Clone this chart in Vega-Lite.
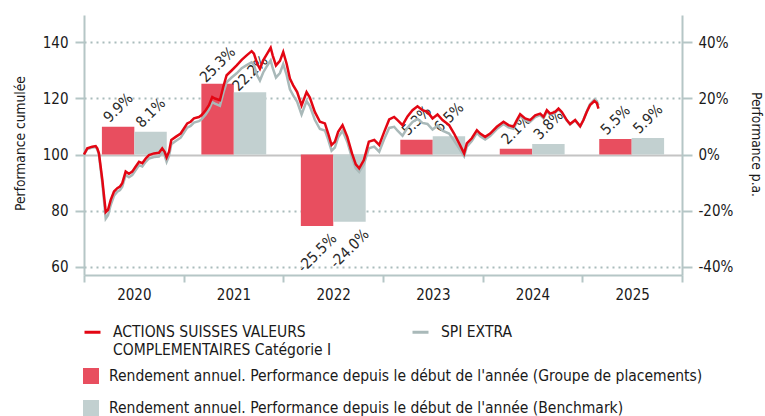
{
  "$schema": "https://vega.github.io/schema/vega-lite/v6.json",
  "width": 598,
  "height": 260,
  "autosize": "none",
  "padding": {"left": 84, "top": 15, "right": 83, "bottom": 141},
  "background": "white",
  "config": {
    "view": {"stroke": null},
    "font": "DejaVu Sans Condensed",
    "axis": {
      "domainColor": "#b5c6c6",
      "domainWidth": 2,
      "tickColor": "#b5c6c6",
      "tickWidth": 2,
      "labelFont": "DejaVu Sans Condensed",
      "labelFontSize": 15,
      "labelColor": "#1a1a1a",
      "titleFont": "DejaVu Sans Condensed",
      "titleFontSize": 13.7,
      "titleFontWeight": "normal",
      "titleColor": "#1a1a1a"
    },
    "legend": {
      "labelFont": "DejaVu Sans Condensed",
      "labelFontSize": 15.5,
      "labelColor": "#1a1a1a",
      "padding": 0
    }
  },
  "datasets": {
    "annual": [
      {"year": "2020", "series": "Groupe de placements", "value": 9.9},
      {"year": "2020", "series": "Benchmark", "value": 8.1},
      {"year": "2021", "series": "Groupe de placements", "value": 25.3},
      {"year": "2021", "series": "Benchmark", "value": 22.2},
      {"year": "2022", "series": "Groupe de placements", "value": -25.5},
      {"year": "2022", "series": "Benchmark", "value": -24.0},
      {"year": "2023", "series": "Groupe de placements", "value": 5.3},
      {"year": "2023", "series": "Benchmark", "value": 6.5},
      {"year": "2024", "series": "Groupe de placements", "value": 2.1},
      {"year": "2024", "series": "Benchmark", "value": 3.8},
      {"year": "2025", "series": "Groupe de placements", "value": 5.5},
      {"year": "2025", "series": "Benchmark", "value": 5.9}
    ],
    "perf": [
      {"t": 2020.000, "fund": 100.0, "bench": 100.0},
      {"t": 2020.033, "fund": 102.2, "bench": 102.0},
      {"t": 2020.083, "fund": 102.8, "bench": 102.5},
      {"t": 2020.117, "fund": 103.0, "bench": 102.7},
      {"t": 2020.133, "fund": 102.2, "bench": 101.9},
      {"t": 2020.150, "fund": 100.4, "bench": 99.9},
      {"t": 2020.184, "fund": 90.9, "bench": 89.7},
      {"t": 2020.218, "fund": 79.5, "bench": 77.1},
      {"t": 2020.241, "fund": 80.3, "bench": 78.3},
      {"t": 2020.268, "fund": 83.8, "bench": 82.0},
      {"t": 2020.301, "fund": 86.8, "bench": 85.3},
      {"t": 2020.334, "fund": 88.0, "bench": 86.7},
      {"t": 2020.361, "fund": 88.6, "bench": 87.3},
      {"t": 2020.384, "fund": 89.8, "bench": 88.5},
      {"t": 2020.418, "fund": 93.9, "bench": 92.7},
      {"t": 2020.451, "fund": 93.1, "bench": 91.9},
      {"t": 2020.484, "fund": 93.9, "bench": 92.7},
      {"t": 2020.519, "fund": 95.7, "bench": 94.5},
      {"t": 2020.552, "fund": 97.4, "bench": 96.2},
      {"t": 2020.585, "fund": 96.9, "bench": 95.7},
      {"t": 2020.619, "fund": 98.6, "bench": 97.4},
      {"t": 2020.652, "fund": 99.8, "bench": 98.6},
      {"t": 2020.702, "fund": 100.4, "bench": 99.1},
      {"t": 2020.752, "fund": 100.6, "bench": 99.3},
      {"t": 2020.785, "fund": 102.2, "bench": 100.9},
      {"t": 2020.809, "fund": 101.0, "bench": 99.7},
      {"t": 2020.829, "fund": 99.0, "bench": 97.4},
      {"t": 2020.853, "fund": 101.0, "bench": 99.5},
      {"t": 2020.876, "fund": 105.2, "bench": 103.7},
      {"t": 2020.920, "fund": 106.3, "bench": 104.8},
      {"t": 2020.970, "fund": 107.5, "bench": 106.0},
      {"t": 2021.003, "fund": 109.3, "bench": 107.8},
      {"t": 2021.036, "fund": 111.1, "bench": 109.6},
      {"t": 2021.070, "fund": 111.7, "bench": 110.2},
      {"t": 2021.103, "fund": 112.9, "bench": 111.4},
      {"t": 2021.153, "fund": 113.4, "bench": 111.9},
      {"t": 2021.177, "fund": 114.0, "bench": 112.5},
      {"t": 2021.221, "fund": 115.8, "bench": 114.3},
      {"t": 2021.254, "fund": 117.6, "bench": 116.1},
      {"t": 2021.287, "fund": 120.5, "bench": 118.7},
      {"t": 2021.314, "fund": 120.0, "bench": 118.2},
      {"t": 2021.364, "fund": 119.4, "bench": 117.4},
      {"t": 2021.397, "fund": 124.1, "bench": 121.9},
      {"t": 2021.431, "fund": 128.3, "bench": 125.8},
      {"t": 2021.481, "fund": 130.0, "bench": 127.5},
      {"t": 2021.532, "fund": 131.8, "bench": 129.0},
      {"t": 2021.582, "fund": 133.8, "bench": 130.8},
      {"t": 2021.632, "fund": 135.4, "bench": 131.9},
      {"t": 2021.682, "fund": 136.9, "bench": 132.9},
      {"t": 2021.705, "fund": 136.0, "bench": 132.0},
      {"t": 2021.738, "fund": 132.4, "bench": 128.2},
      {"t": 2021.765, "fund": 130.6, "bench": 126.4},
      {"t": 2021.798, "fund": 133.6, "bench": 129.3},
      {"t": 2021.838, "fund": 136.0, "bench": 131.7},
      {"t": 2021.873, "fund": 138.1, "bench": 133.6},
      {"t": 2021.893, "fund": 135.4, "bench": 130.9},
      {"t": 2021.926, "fund": 131.8, "bench": 127.5},
      {"t": 2021.966, "fund": 133.4, "bench": 129.1},
      {"t": 2021.999, "fund": 136.6, "bench": 132.3},
      {"t": 2022.033, "fund": 132.4, "bench": 128.4},
      {"t": 2022.066, "fund": 127.1, "bench": 123.3},
      {"t": 2022.099, "fund": 124.7, "bench": 121.1},
      {"t": 2022.139, "fund": 122.3, "bench": 118.8},
      {"t": 2022.183, "fund": 117.5, "bench": 114.3},
      {"t": 2022.233, "fund": 122.3, "bench": 119.1},
      {"t": 2022.266, "fund": 120.3, "bench": 117.3},
      {"t": 2022.316, "fund": 115.2, "bench": 112.4},
      {"t": 2022.367, "fund": 111.7, "bench": 109.1},
      {"t": 2022.417, "fund": 111.1, "bench": 108.6},
      {"t": 2022.450, "fund": 107.5, "bench": 105.3},
      {"t": 2022.484, "fund": 103.4, "bench": 101.4},
      {"t": 2022.517, "fund": 104.5, "bench": 102.5},
      {"t": 2022.550, "fund": 108.1, "bench": 106.1},
      {"t": 2022.594, "fund": 110.5, "bench": 108.5},
      {"t": 2022.642, "fund": 106.3, "bench": 104.5},
      {"t": 2022.689, "fund": 100.4, "bench": 98.8},
      {"t": 2022.727, "fund": 96.5, "bench": 95.1},
      {"t": 2022.761, "fund": 95.1, "bench": 93.8},
      {"t": 2022.808, "fund": 98.0, "bench": 96.5},
      {"t": 2022.858, "fund": 104.6, "bench": 102.2},
      {"t": 2022.912, "fund": 105.2, "bench": 102.8},
      {"t": 2022.962, "fund": 103.4, "bench": 101.0},
      {"t": 2023.012, "fund": 108.1, "bench": 105.5},
      {"t": 2023.062, "fund": 112.5, "bench": 109.5},
      {"t": 2023.112, "fund": 113.4, "bench": 109.9},
      {"t": 2023.146, "fund": 112.3, "bench": 108.5},
      {"t": 2023.196, "fund": 110.5, "bench": 106.7},
      {"t": 2023.246, "fund": 113.6, "bench": 109.6},
      {"t": 2023.296, "fund": 115.8, "bench": 111.6},
      {"t": 2023.346, "fund": 117.2, "bench": 112.7},
      {"t": 2023.396, "fund": 115.8, "bench": 111.3},
      {"t": 2023.446, "fund": 115.2, "bench": 110.9},
      {"t": 2023.497, "fund": 112.9, "bench": 108.9},
      {"t": 2023.547, "fund": 114.3, "bench": 110.3},
      {"t": 2023.597, "fund": 112.3, "bench": 108.5},
      {"t": 2023.663, "fund": 110.5, "bench": 107.5},
      {"t": 2023.713, "fund": 107.5, "bench": 105.0},
      {"t": 2023.764, "fund": 104.0, "bench": 102.2},
      {"t": 2023.814, "fund": 100.4, "bench": 99.4},
      {"t": 2023.841, "fund": 104.0, "bench": 102.8},
      {"t": 2023.891, "fund": 105.8, "bench": 104.8},
      {"t": 2023.942, "fund": 108.7, "bench": 107.7},
      {"t": 2023.975, "fund": 107.5, "bench": 106.5},
      {"t": 2024.025, "fund": 106.3, "bench": 105.4},
      {"t": 2024.075, "fund": 107.5, "bench": 106.6},
      {"t": 2024.142, "fund": 109.9, "bench": 109.1},
      {"t": 2024.209, "fund": 111.7, "bench": 110.9},
      {"t": 2024.259, "fund": 110.5, "bench": 109.7},
      {"t": 2024.309, "fund": 109.9, "bench": 109.2},
      {"t": 2024.343, "fund": 112.3, "bench": 111.6},
      {"t": 2024.376, "fund": 114.4, "bench": 113.7},
      {"t": 2024.426, "fund": 112.9, "bench": 112.3},
      {"t": 2024.476, "fund": 112.3, "bench": 111.7},
      {"t": 2024.527, "fund": 114.0, "bench": 113.4},
      {"t": 2024.577, "fund": 114.6, "bench": 114.1},
      {"t": 2024.611, "fund": 113.4, "bench": 112.9},
      {"t": 2024.644, "fund": 115.8, "bench": 115.4},
      {"t": 2024.677, "fund": 114.6, "bench": 114.2},
      {"t": 2024.727, "fund": 115.2, "bench": 114.9},
      {"t": 2024.761, "fund": 116.4, "bench": 116.1},
      {"t": 2024.794, "fund": 115.2, "bench": 114.9},
      {"t": 2024.844, "fund": 112.3, "bench": 112.1},
      {"t": 2024.877, "fund": 110.9, "bench": 110.7},
      {"t": 2024.928, "fund": 112.3, "bench": 112.2},
      {"t": 2024.978, "fund": 110.1, "bench": 110.0},
      {"t": 2025.011, "fund": 112.3, "bench": 112.3},
      {"t": 2025.044, "fund": 115.2, "bench": 115.4},
      {"t": 2025.077, "fund": 117.6, "bench": 118.0},
      {"t": 2025.121, "fund": 119.1, "bench": 119.7},
      {"t": 2025.145, "fund": 118.4, "bench": 119.1},
      {"t": 2025.162, "fund": 116.4, "bench": 117.5}
    ]
  },
  "layer": [
    {
      "data": {"name": "annual"},
      "transform": [
        {"calculate": "replace(format(datum.value, '.1f'), '\u2212', '-') + '%'", "as": "label"}
      ],
      "encoding": {
        "x": {
          "field": "year",
          "type": "ordinal",
          "axis": null,
          "scale": {"paddingInner": 0.348, "paddingOuter": 0.18}
        },
        "xOffset": {
          "field": "series",
          "type": "nominal",
          "scale": {"domain": ["Groupe de placements", "Benchmark"], "paddingInner": 0, "paddingOuter": 0}
        },
        "y": {
          "field": "value",
          "type": "quantitative",
          "scale": {"domain": [-43, 49.8], "nice": false, "zero": false},
          "axis": {
            "orient": "right",
            "values": [-40, -20, 0, 20, 40],
            "labelExpr": "datum.value + '%'",
            "grid": false,
            "tickSize": 10,
            "labelPadding": 6,
            "title": "Performance p.a.",
            "titleAngle": 90,
            "titleAlign": "center",
            "titleBaseline": "middle",
            "titleX": 73,
            "titleY": 129
          }
        }
      },
      "layer": [
        {
          "mark": {"type": "bar"},
          "encoding": {
            "fill": {
              "field": "series",
              "type": "nominal",
              "scale": {"domain": ["Groupe de placements", "Benchmark"], "range": ["#e84e5f", "#c2d0d0"]},
              "legend": {
                "orient": "none",
                "legendX": -1,
                "legendY": 353,
                "direction": "vertical",
                "title": null,
                "symbolType": "square",
                "symbolSize": 256,
                "symbolStrokeWidth": 0,
                "symbolOpacity": 1,
                "rowPadding": 15,
                "labelOffset": 10,
                "labelLimit": 700,
                "labelExpr": "\"Rendement annuel. Performance depuis le d\u00e9but de l'ann\u00e9e (\" + datum.label + \")\""
              }
            }
          }
        },
        {
          "transform": [{"filter": "datum.value >= 0"}],
          "mark": {"type": "text", "angle": 315, "align": "center", "baseline": "middle", "dx": 13.5, "dy": -13.5, "fontSize": 15, "color": "#2a2a2a"},
          "encoding": {"text": {"field": "label"}}
        },
        {
          "transform": [{"filter": "datum.value < 0"}],
          "mark": {"type": "text", "angle": 315, "align": "center", "baseline": "middle", "dx": -19, "dy": 19, "fontSize": 15, "color": "#2a2a2a"},
          "encoding": {"text": {"field": "label"}}
        }
      ]
    },
    {
      "data": {"name": "perf"},
      "encoding": {
        "x": {
          "field": "t",
          "type": "quantitative",
          "scale": {"domain": [2020, 2026], "nice": false, "zero": false},
          "axis": {
            "values": [2020, 2021, 2022, 2023, 2024, 2025, 2026],
            "labelExpr": "datum.value < 2026 ? datum.value + '' : ''",
            "labelOffset": 49.8,
            "labelFlush": false,
            "labelOverlap": false,
            "grid": false,
            "tickSize": 7,
            "labelPadding": 5,
            "title": null
          }
        }
      },
      "layer": [
        {
          "mark": {"type": "line", "strokeWidth": 2.5, "interpolate": "linear"},
          "encoding": {
            "y": {
              "field": "bench",
              "type": "quantitative",
              "scale": {"domain": [57, 149.8], "nice": false, "zero": false},
              "axis": {
                "orient": "left",
                "values": [60, 80, 100, 120, 140],
                "grid": true,
                "gridDash": {"condition": {"test": "datum.value === 100", "value": []}, "value": [2, 4]},
                "gridColor": {"condition": {"test": "datum.value === 100", "value": "#c4c4c4"}, "value": "#a9bcbc"},
                "gridWidth": 2,
                "tickSize": 9,
                "labelPadding": 7,
                "title": "Performance cumulée",
                "titleAngle": 270,
                "titleAlign": "center",
                "titleBaseline": "middle",
                "titleX": -64,
                "titleY": 128
              }
            },
            "stroke": {
              "datum": "SPI EXTRA",
              "type": "nominal",
              "scale": {
                "domain": ["ACTIONS SUISSES VALEURS COMPLEMENTAIRES Catégorie I", "SPI EXTRA"],
                "range": ["#e30613", "#a9b9b9"]
              },
              "legend": {
                "orient": "none",
                "legendX": -1,
                "legendY": 307.5,
                "columns": 2,
                "title": null,
                "symbolType": "stroke",
                "symbolSize": 256,
                "symbolStrokeWidth": 3,
                "labelOffset": 11,
                "labelLimit": 400,
                "columnPadding": 74,
                "labelExpr": "datum.label == 'SPI EXTRA' ? ['SPI EXTRA', ''] : ['ACTIONS SUISSES VALEURS', 'COMPLEMENTAIRES Catégorie I']"
              }
            }
          }
        },
        {
          "mark": {"type": "line", "strokeWidth": 2.5, "interpolate": "linear"},
          "encoding": {
            "y": {"field": "fund", "type": "quantitative"},
            "stroke": {"datum": "ACTIONS SUISSES VALEURS COMPLEMENTAIRES Catégorie I", "type": "nominal"}
          }
        }
      ]
    }
  ],
  "resolve": {"scale": {"x": "independent", "y": "independent"}}
}
